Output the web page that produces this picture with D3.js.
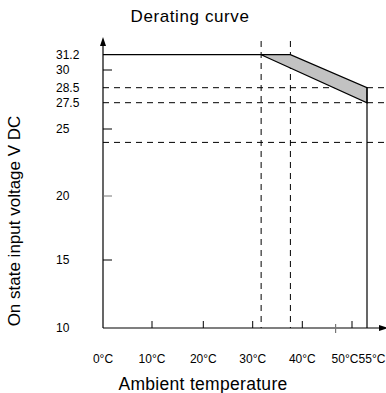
<!DOCTYPE html>
<html><head><meta charset="utf-8">
<script src="https://cdn.jsdelivr.net/npm/d3@7"></script>
<style>body{margin:0;background:#fff}svg{display:block}text{font-family:"Liberation Sans",Arial,sans-serif;fill:#000}</style>
</head><body>
<svg id="c" width="386" height="393"></svg>
<script>
const yTickLabels = [31.2, 30, 28.5, 27.5, 25, 20, 15, 10];
const yTickMarks = [30, 25, 20, 15];
const xTickLabels = [0, 10, 20, 30, 40, 50, 55];
const xTickMarks = [10, 20, 30, 40, 50];
const xMinorGray = [46.7];
const dashedV = [31.7, 37.6];
const dashedH = [28.5, 27.5, 24];
const maxVoltage = 31.2;
const upperCurveT = [0, 37.6, 55];
const upperCurveV = [31.2, 31.2, 28.5];
const lowerCurveT = [31.7, 55];
const lowerCurveV = [31.2, 27.5];

const svg = d3.select("#c");
const y = d3.scaleLinear().domain([10,15,20,25,27.5,28.5,30,31.2]).range([328,260,196,129,102.7,87.7,70,54.7]);
const x = d3.scaleLinear().domain([0,10,20,30,40,50,55]).range([103,152,203.3,252.7,302.3,352,367]);
const x0 = x(0), y0 = y(10);

svg.append("text").attr("x",190).attr("y",22).attr("text-anchor","middle").style("font-size","17px").style("letter-spacing","0.6px").text("Derating curve");
svg.append("text").attr("transform","translate(20,221) rotate(-90)").attr("text-anchor","middle").style("font-size","17px").text("On state input voltage V DC");
svg.append("text").attr("x",203).attr("y",390).attr("text-anchor","middle").style("font-size","17.5px").style("letter-spacing","0.3px").text("Ambient temperature");

// dashed lines
dashedH.forEach(v=>svg.append("line").attr("x1",x0).attr("x2",386).attr("y1",y(v)).attr("y2",y(v)).attr("stroke","#000").attr("stroke-width",1).attr("stroke-dasharray","6,5"));
dashedV.forEach(t=>svg.append("line").attr("x1",x(t)).attr("x2",x(t)).attr("y1",41).attr("y2",y0).attr("stroke","#000").attr("stroke-width",1).attr("stroke-dasharray","6,5"));

// shaded band
const band = upperCurveT.slice(1).map((t,i)=>[x(t),y(upperCurveV[i+1])]);
const lowerPts = lowerCurveT.map((t,i)=>[x(t),y(lowerCurveV[i])]);
const poly = [lowerPts[0], ...band, lowerPts[1]];
svg.append("path").attr("d",d3.line()(poly)+"Z").attr("fill","#c2c2c2").attr("stroke","#000").attr("stroke-width",1.2);
// top horizontal line
svg.append("line").attr("x1",x0).attr("x2",x(dashedV[0])).attr("y1",y(maxVoltage)).attr("y2",y(maxVoltage)).attr("stroke","#000").attr("stroke-width",1.2);
// vertical at 55
svg.append("line").attr("x1",x(55)).attr("x2",x(55)).attr("y1",y(28.5)).attr("y2",y0).attr("stroke","#000").attr("stroke-width",1.2);

// axes
svg.append("line").attr("x1",x0).attr("x2",x0).attr("y1",44).attr("y2",y0).attr("stroke","#000").attr("stroke-width",1.2);
svg.append("line").attr("x1",x0).attr("x2",382).attr("y1",y0).attr("y2",y0).attr("stroke","#000").attr("stroke-width",1.2);
svg.append("path").attr("d",`M${x0},37 L${x0-3},46 L${x0+3},46 Z`).attr("fill","#000");
svg.append("path").attr("d",`M388,${y0} L379,${y0-3} L379,${y0+3} Z`).attr("fill","#000");

yTickMarks.forEach(v=>svg.append("line").attr("x1",x0).attr("x2",x0+9).attr("y1",y(v)).attr("y2",y(v)).attr("stroke",v===20?"#777":"#000").attr("stroke-width",1));
xTickMarks.forEach(t=>svg.append("line").attr("x1",x(t)).attr("x2",x(t)).attr("y1",y0).attr("y2",y0-7).attr("stroke","#000").attr("stroke-width",1));
xMinorGray.forEach(t=>svg.append("line").attr("x1",x(t)).attr("x2",x(t)).attr("y1",y0-4).attr("y2",y0+5).attr("stroke","#777").attr("stroke-width",1.2));

yTickLabels.forEach(v=>svg.append("text").attr("x",56).attr("y",y(v)+4).style("font-size","12px").text(String(v)));
const labelShift = {50:-7, 55:5};
xTickLabels.forEach(t=>svg.append("text").attr("x",x(t)+(labelShift[t]||0)).attr("y",363).attr("text-anchor","middle").style("font-size","12px").text(t+"°C"));
</script>
</body></html>
